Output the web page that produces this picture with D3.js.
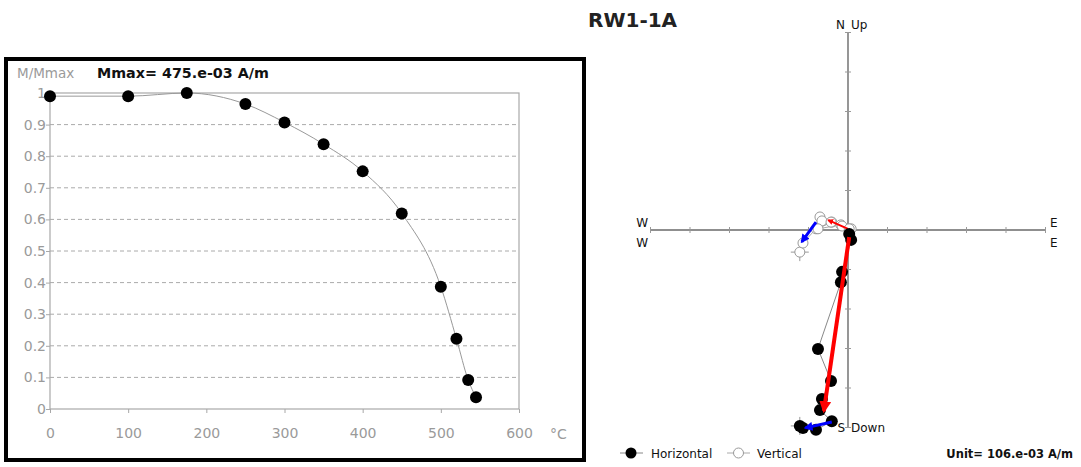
<!DOCTYPE html>
<html><head><meta charset="utf-8">
<script src="https://cdn.jsdelivr.net/npm/d3@7"></script>
<style>body{margin:0;background:#fff;} svg{display:block;font-family:"DejaVu Sans",sans-serif;}</style>
</head><body>
<svg id="c" width="1081" height="467"></svg>
<script>
// ---- Demagnetisation curve data ----
const temps = [0, 100, 175, 250, 300, 350, 400, 450, 500, 520, 535, 545];
const mNorm = [0.99, 0.99, 1.0, 0.965, 0.907, 0.838, 0.752, 0.619, 0.387, 0.222, 0.092, 0.037];
const xTicks = [0, 100, 200, 300, 400, 500, 600];
const yTicks = [0, 0.1, 0.2, 0.3, 0.4, 0.5, 0.6, 0.7, 0.8, 0.9, 1];
const yTickLabels = ["0", "0.1", "0.2", "0.3", "0.4", "0.5", "0.6", "0.7", "0.8", "0.9", "1"];

// ---- Zijderveld data (units of 106.e-03 A/m) ----
const east  = [-1.22, -1.14, -0.81, -0.41, -0.71, -0.66, -0.43, -0.76, -0.18, -0.15, 0.08, 0.03];
const north = [-4.96, -5.01, -5.06, -4.84, -4.56, -4.28, -3.82, -3.01, -1.32, -1.06, -0.25, -0.10];
const up    = [-0.56, -0.33, 0.03, 0.20, 0.33, 0.23, 0.20, 0.03, 0.13, 0.10, 0.03, 0.03];
const zTicks = [-5, -4, -3, -2, -1, 1, 2, 3, 4, 5];
// fitted components: [E1, Y1, E2, Y2]
const redH  = [0.03, -0.18, -0.61, -4.58];
const redV  = [0.00, 0.03, -0.50, 0.25];
const blueH = [-0.41, -4.86, -1.08, -5.01];
const blueV = [-0.81, 0.20, -1.17, -0.30];

const svg = d3.select("#c");
const defs = svg.append("defs");
[["red","#ff0000"],["blue","#0000ff"]].forEach(([id,col])=>{
  defs.append("marker").attr("id","arr-"+id).attr("viewBox","0 0 10 10").attr("refX",8).attr("refY",5)
    .attr("markerWidth",3).attr("markerHeight",3).attr("orient","auto")
    .append("path").attr("d","M0,0L10,5L0,10z").attr("fill",col);
});

// ===== Left chart =====
svg.append("rect").attr("x",6).attr("y",59).attr("width",578).attr("height",401)
  .attr("fill","none").attr("stroke","#000").attr("stroke-width",4);

const x = d3.scaleLinear().domain([0,600]).range([50,519]);
const y = d3.scaleLinear().domain([0,1]).range([409,93]);
const gray = "#9a9a9a";

const gl = svg.append("g");
gl.selectAll("line.grid").data(yTicks.filter(v=>v>0 && v<1)).join("line")
  .attr("x1",x(0)).attr("x2",x(600)).attr("y1",d=>y(d)).attr("y2",d=>y(d))
  .attr("stroke","#aaa").attr("stroke-dasharray","4,3").attr("stroke-width",1);
gl.append("rect").attr("x",x(0)).attr("y",y(1)).attr("width",x(600)-x(0)).attr("height",y(0)-y(1))
  .attr("fill","none").attr("stroke","#a8a8a8").attr("stroke-width",1.2);

const xAxis = d3.axisBottom(x).tickValues(xTicks).tickSize(4).tickFormat(d3.format("d"));
const gx = svg.append("g").attr("transform",`translate(0,${y(0)})`).call(xAxis);
gx.select(".domain").remove();
gx.selectAll("line").attr("stroke","#a8a8a8");
gx.selectAll("text").attr("fill",gray).attr("font-size",14).attr("dy","1.6em")
  .attr("font-family","DejaVu Sans, sans-serif");

const yAxis = d3.axisLeft(y).tickValues(yTicks).tickSize(4).tickFormat((d,i)=>yTickLabels[i]);
const gy = svg.append("g").attr("transform",`translate(${x(0)},0)`).call(yAxis);
gy.select(".domain").remove();
gy.selectAll("line").attr("stroke","#a8a8a8");
gy.selectAll("text").attr("fill",gray).attr("font-size",14).attr("x",-4)
  .attr("font-family","DejaVu Sans, sans-serif");

svg.append("text").attr("x",550).attr("y",y(0)+30).attr("fill",gray).attr("font-size",14).text("°C");
svg.append("text").attr("x",17).attr("y",78).attr("fill",gray).attr("font-size",13.5).text("M/Mmax");
svg.append("text").attr("x",97).attr("y",78).attr("fill","#111").attr("font-size",14.3)
  .attr("font-weight","bold").text("Mmax= 475.e-03 A/m");

const line = d3.line().x((d,i)=>x(temps[i])).y(d=>y(d)).curve(d3.curveMonotoneX);
svg.append("path").attr("d",line(mNorm)).attr("fill","none").attr("stroke","#999").attr("stroke-width",1);
svg.selectAll("circle.m").data(mNorm).join("circle").attr("class","m")
  .attr("cx",(d,i)=>x(temps[i])).attr("cy",d=>y(d)).attr("r",6).attr("fill","#000");

// ===== Right chart (Zijderveld) =====
svg.append("text").attr("x",588).attr("y",27).attr("font-size",20).attr("font-weight","bold")
  .attr("fill","#222").text("RW1-1A");

const zx = d3.scaleLinear().domain([-5,5]).range([848-197.5, 848+197.5]);
const zy = d3.scaleLinear().domain([-5,5]).range([230+197.5, 230-197.5]);
const axCol = "#6a6a6a";
const gz = svg.append("g");
gz.append("line").attr("x1",zx(-5)).attr("x2",zx(5)).attr("y1",zy(0)).attr("y2",zy(0)).attr("stroke",axCol).attr("stroke-width",1.4);
gz.append("line").attr("x1",zx(0)).attr("x2",zx(0)).attr("y1",zy(5)).attr("y2",zy(-5)).attr("stroke",axCol).attr("stroke-width",1.4);
gz.selectAll("line.tx").data(zTicks).join("line").attr("x1",d=>zx(d)).attr("x2",d=>zx(d))
  .attr("y1",zy(0)-3).attr("y2",zy(0)+3).attr("stroke","#999");
gz.selectAll("line.ty").data(zTicks).join("line").attr("y1",d=>zy(d)).attr("y2",d=>zy(d))
  .attr("x1",zx(0)-3).attr("x2",zx(0)+3).attr("stroke","#999");

const lbl = (t,xx,yy,anchor)=>svg.append("text").attr("x",xx).attr("y",yy).attr("font-size",12)
  .attr("fill","#111").attr("text-anchor",anchor||"start").text(t);
lbl("N",845,29,"end"); lbl("Up",851,29);
lbl("W",648,227,"end"); lbl("W",648,247,"end");
lbl("E",1050,227); lbl("E",1050,247);
lbl("S",845,432,"end"); lbl("Down",851,432);

// connecting lines
const hLine = d3.line().x((d,i)=>zx(east[i])).y(d=>zy(d));
svg.append("path").attr("d",hLine(north)).attr("fill","none").attr("stroke","#888").attr("stroke-width",1);
svg.append("path").attr("d",hLine(up)).attr("fill","none").attr("stroke","#aaa").attr("stroke-width",1);

// crosshairs at NRM
[[east[0],north[0]],[east[0],up[0]]].forEach(([e,v])=>{
  svg.append("line").attr("x1",zx(e)-9).attr("x2",zx(e)+9).attr("y1",zy(v)).attr("y2",zy(v)).attr("stroke","#999");
  svg.append("line").attr("x1",zx(e)).attr("x2",zx(e)).attr("y1",zy(v)-9).attr("y2",zy(v)+9).attr("stroke","#999");
});

// vertical (open) points
svg.selectAll("circle.v").data(up).join("circle").attr("class","v")
  .attr("cx",(d,i)=>zx(east[i])).attr("cy",d=>zy(d)).attr("r",5)
  .attr("fill","#fff").attr("stroke","#999").attr("stroke-width",1);

// fits
const fit = (f,col,w,id)=>svg.append("line").attr("x1",zx(f[0])).attr("y1",zy(f[1]))
  .attr("x2",zx(f[2])).attr("y2",zy(f[3])).attr("stroke",col).attr("stroke-width",w)
  .attr("marker-end",`url(#arr-${id})`);
fit(redV,"#ff0000",2,"red");
fit(blueV,"#0000ff",3,"blue");

// horizontal (filled) points
svg.selectAll("circle.h").data(north).join("circle").attr("class","h")
  .attr("cx",(d,i)=>zx(east[i])).attr("cy",d=>zy(d)).attr("r",6).attr("fill","#000");
fit(redH,"#ff0000",4,"red");
fit(blueH,"#0000ff",3,"blue");

// legend
const ly = 453;
svg.append("line").attr("x1",620).attr("x2",643).attr("y1",ly).attr("y2",ly).attr("stroke","#888");
svg.append("circle").attr("cx",631).attr("cy",ly).attr("r",5.5).attr("fill","#000");
svg.append("text").attr("x",651).attr("y",ly+4.5).attr("font-size",12).attr("fill","#111").text("Horizontal");
svg.append("line").attr("x1",727).attr("x2",750).attr("y1",ly).attr("y2",ly).attr("stroke","#aaa");
svg.append("circle").attr("cx",738.5).attr("cy",ly).attr("r",5).attr("fill","#fff").attr("stroke","#999");
svg.append("text").attr("x",757).attr("y",ly+4.5).attr("font-size",12).attr("fill","#111").text("Vertical");
svg.append("text").attr("x",1073).attr("y",ly+4.5).attr("font-size",11.5).attr("font-weight","bold")
  .attr("text-anchor","end").attr("fill","#111").text("Unit= 106.e-03 A/m");
</script>
</body></html>
